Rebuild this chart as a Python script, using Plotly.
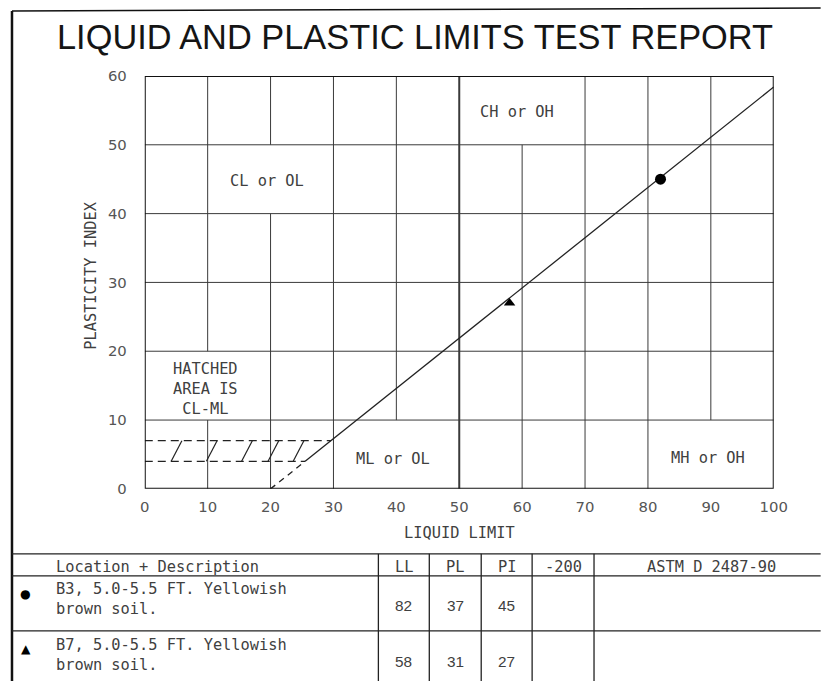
import plotly.graph_objects as go

# ---------------- data ----------------
title_text = "LIQUID AND PLASTIC LIMITS TEST REPORT"
x_title = "LIQUID LIMIT"
y_title = "PLASTICITY INDEX"
x_ticks = [0, 10, 20, 30, 40, 50, 60, 70, 80, 90, 100]
y_ticks = [0, 10, 20, 30, 40, 50, 60]

# samples
sample_desc = ["B3, 5.0-5.5 FT. Yellowish<br>brown soil.", "B7, 5.0-5.5 FT. Yellowish<br>brown soil."]
sample_ll = [82, 58]
sample_pl = [37, 31]
sample_pi = [45, 27]
sample_symbol = ["circle", "triangle-up"]
sample_glyph = ["\u25cf", "\u25b2"]

# A-line (solid part and dashed extension)
aline_x = [25.5, 100]
aline_y = [4, 58.4]
aline_ext_x = [20, 25.5]
aline_ext_y = [0, 4]

# CL-ML hatched band
band_lower_x = [0, 25.5]
band_lower_y = [4, 4]
band_upper_x = [0, 29.6]
band_upper_y = [7, 7]
hatch_x0 = [4.2, 9.8, 15.4, 19.6, 23.6]
hatch_x1 = [5.9, 11.5, 17.1, 21.3, 25.3]
hatch_y0 = 4
hatch_y1 = 7

# zone labels
zone_text = ["CL or OL", "CH or OH", "HATCHED<br>AREA IS<br>CL-ML", "ML or OL", "MH or OH"]
zone_x = [19.5, 59.2, 9.6, 39.4, 89.5]
zone_y = [44.7, 54.7, 14.5, 4.3, 4.5]

# grid lines and their gaps (where zone labels sit)
grid_x = [10, 20, 30, 40, 50, 60, 70, 80, 90]
grid_y = [10, 20, 30, 40, 50]
grid_gaps_v = {20: [(40, 50)], 60: [(50, 60)], 10: [(10, 20)], 40: [(0, 10)], 90: [(0, 10)]}

# table
table_header = ["Location + Description", "LL", "PL", "PI", "-200", "ASTM D 2487-90"]

# ---------------- layout helpers ----------------
FW, FH = 840, 700
# the photographed page is placed at (AX, AY) and scaled by (SX, SY)
AX, AY, SX, SY = 4.0, 8.0, 0.979, 0.976
def px(x):
    return ((x - AX) / SX) / FW
def py(y):
    return 1 - ((y - AY) / SY) / FH
def fs(s):
    return s / ((SX + SY) / 2)

x0p, x1p = 144, 774
y0p, y1p = 488, 75
IMG_R, IMG_B = 821, 681

LINE = "#3a3a3a"
TXT = "#404040"
LABEL_FONT = "DejaVu Sans Mono, monospace"

fig = go.Figure()

# A-line
fig.add_trace(go.Scatter(x=aline_x, y=aline_y, mode="lines",
                         line=dict(color="#222", width=1.3), hoverinfo="skip", showlegend=False))
fig.add_trace(go.Scatter(x=aline_ext_x, y=aline_ext_y, mode="lines",
                         line=dict(color="#222", width=1.3, dash="6px,5px"), hoverinfo="skip", showlegend=False))
# band lines
for bx, by in [(band_lower_x, band_lower_y), (band_upper_x, band_upper_y)]:
    fig.add_trace(go.Scatter(x=bx, y=by, mode="lines",
                             line=dict(color="#222", width=1.3, dash="8px,5px"), hoverinfo="skip", showlegend=False))
# hatch
hx, hy = [], []
for a, b in zip(hatch_x0, hatch_x1):
    hx += [a, b, None]
    hy += [hatch_y0, hatch_y1, None]
fig.add_trace(go.Scatter(x=hx, y=hy, mode="lines", line=dict(color="#222", width=1.2),
                         hoverinfo="skip", showlegend=False))

# samples
for i in range(len(sample_ll)):
    fig.add_trace(go.Scatter(x=[sample_ll[i]], y=[sample_pi[i]], mode="markers",
                             marker=dict(symbol=sample_symbol[i], size=11 if i == 0 else 10, color="black"),
                             hoverinfo="skip", showlegend=False))

# grid segments
shapes = []
for gx in grid_x:
    gaps = sorted(grid_gaps_v.get(gx, []))
    start = 0
    segs = []
    for g0, g1 in gaps:
        if g0 > start:
            segs.append((start, g0))
        start = g1
    if start < 60:
        segs.append((start, 60))
    for s0, s1 in segs:
        shapes.append(dict(type="line", xref="x", yref="y", x0=gx, x1=gx, y0=s0, y1=s1,
                           line=dict(color=LINE, width=2 if gx == 50 else 1), layer="below"))
for gy in grid_y:
    shapes.append(dict(type="line", xref="x", yref="y", x0=0, x1=100, y0=gy, y1=gy,
                       line=dict(color=LINE, width=1), layer="below"))
# plot frame
shapes.append(dict(type="rect", xref="x", yref="y", x0=0, x1=100, y0=0, y1=60,
                   line=dict(color="#111", width=2)))

# page frame
shapes.append(dict(type="line", xref="paper", yref="paper", x0=px(11), x1=px(11), y0=py(10), y1=py(IMG_B),
                   line=dict(color="#111", width=2.5)))
shapes.append(dict(type="line", xref="paper", yref="paper", x0=px(11), x1=px(IMG_R), y0=py(10), y1=py(7),
                   line=dict(color="#111", width=1.5)))

# table lines
for ty in [553, 575, 630]:
    shapes.append(dict(type="line", xref="paper", yref="paper", x0=px(11), x1=px(IMG_R), y0=py(ty), y1=py(ty),
                       line=dict(color="#222", width=1.3)))
col_x = [378, 429, 481, 532, 594]
for cx in col_x:
    shapes.append(dict(type="line", xref="paper", yref="paper", x0=px(cx), x1=px(cx), y0=py(553), y1=py(IMG_B),
                       line=dict(color="#222", width=1.3)))

annotations = []
def ann(text, x, y, size, family=LABEL_FONT, color=TXT, xanchor="center", angle=0, align="center"):
    annotations.append(dict(text=text, xref="paper", yref="paper", x=px(x), y=py(y),
                            xanchor=xanchor, yanchor="middle", textangle=angle, showarrow=False, align=align,
                            font=dict(family=family, size=fs(size), color=color)))

# title
ann(title_text, 415, 36, 33.6, family="Liberation Sans, Arial, sans-serif", color="#151515")
# axis titles
ann(y_title, 90, 275, 15, angle=-90)
ann(x_title, 459, 532, 15)
# zone labels
for t, zx, zy in zip(zone_text, zone_x, zone_y):
    annotations.append(dict(text=t, x=zx, y=zy, xref="x", yref="y", showarrow=False,
                            xanchor="center", yanchor="middle",
                            font=dict(family=LABEL_FONT, size=fs(15), color=TXT)))

# table header
col_centers = [None, (378 + 429) / 2, (429 + 481) / 2, (481 + 532) / 2, (532 + 594) / 2, 712]
ann(table_header[0], 53, 566, 15, xanchor="left")
for j in range(1, len(table_header)):
    ann(table_header[j], col_centers[j], 566, 15)
# table rows
row_mid = [598, 654]
row_glyph = [593, 648]
row_val = [605, 661]
for i in range(len(sample_ll)):
    ann(sample_glyph[i], 25, row_glyph[i], 12, family="DejaVu Sans", color="#000")
    ann(sample_desc[i], 53, row_mid[i], 15, xanchor="left", align="left")
    for j, v in zip([1, 2, 3], [sample_ll[i], sample_pl[i], sample_pi[i]]):
        ann(str(v), col_centers[j], row_val[i], 15, family="Liberation Sans, Arial")

fig.update_layout(
    width=FW, height=FH,
    margin=dict(l=0, r=0, t=0, b=0),
    paper_bgcolor="white", plot_bgcolor="white",
    shapes=shapes, annotations=annotations,
    xaxis=dict(domain=[px(x0p), px(x1p)], range=[0, 100], tickvals=x_ticks, showgrid=False, zeroline=False,
               showline=False, ticks="", tickfont=dict(family="DejaVu Sans", size=fs(14.5), color="#555"),
               fixedrange=True, ticklabelstandoff=7),
    yaxis=dict(domain=[py(y0p), py(y1p)], range=[0, 60], tickvals=y_ticks, showgrid=False, zeroline=False,
               showline=False, ticks="", tickfont=dict(family="DejaVu Sans", size=fs(14.5), color="#555"),
               fixedrange=True, ticklabelstandoff=17),
    showlegend=False,
)

fig.write_html("out.html", config={"displayModeBar": False},
               post_script="document.body.style.margin='0';document.body.style.overflow='hidden';")
